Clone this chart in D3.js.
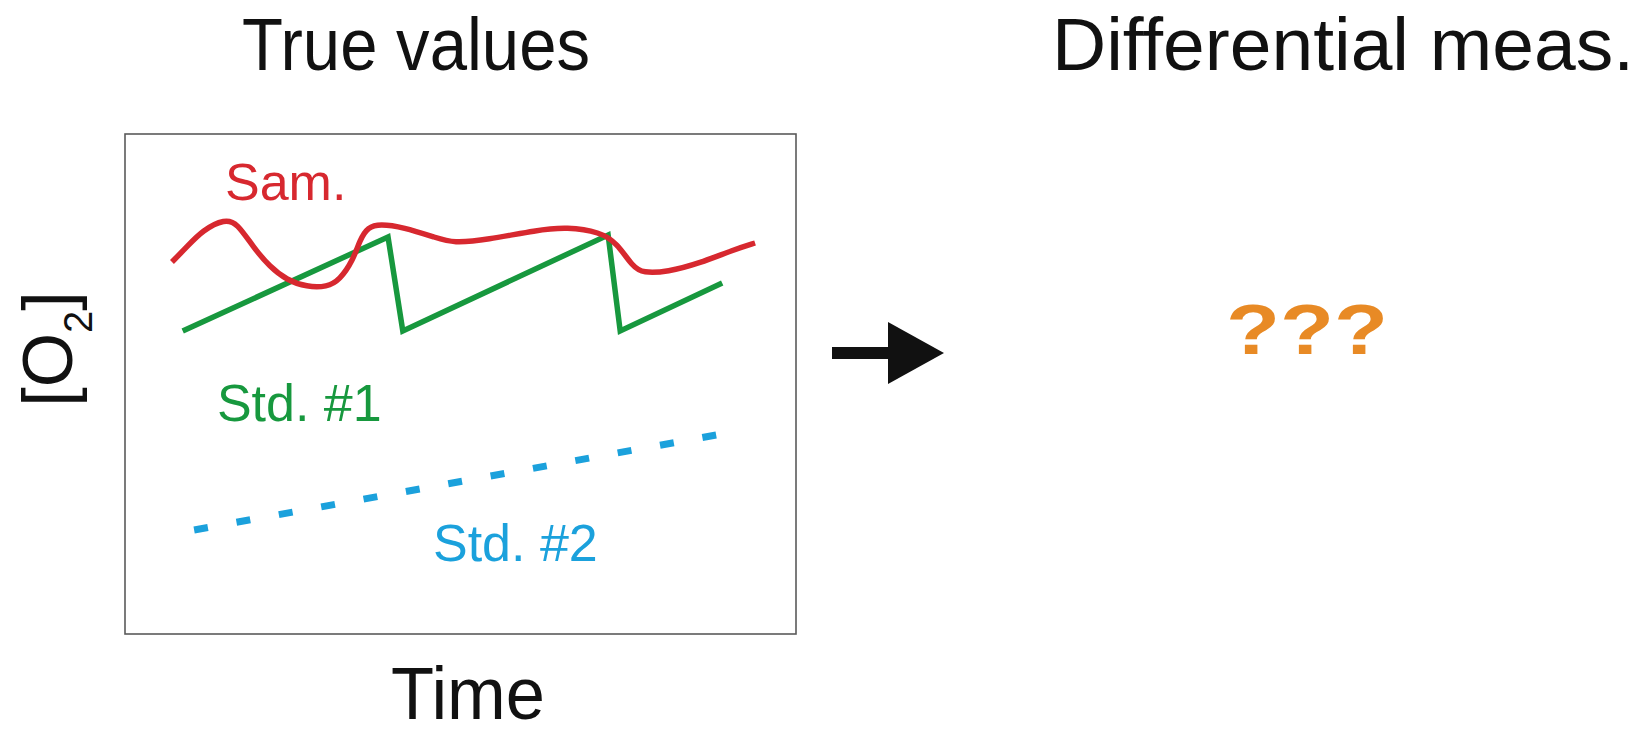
<!DOCTYPE html>
<html>
<head>
<meta charset="utf-8">
<script src="https://cdn.jsdelivr.net/npm/d3@7"></script>
<style>
  html, body { margin: 0; padding: 0; background: #fff; }
  svg { display: block; }
  text { font-family: "Liberation Sans", Arial, Helvetica, sans-serif; }
</style>
</head>
<body>
<div id="chart"></div>
<script>
// ---- data (arbitrary units, 0–100 on both axes) ----
const sampleTime = [7.0, 9.2, 11.6, 14.9, 16.7, 19.1, 21.6, 24.1, 27.1, 30.1, 32.0, 34.0, 35.0, 36.2, 38.0, 41.4, 46.5, 48.9, 53.9, 61.4, 65.9, 70.8, 73.3, 75.7, 77.2, 80.8, 85.7, 90.6, 93.9];
const sampleO2   = [74.4, 77.4, 80.8, 83.0, 82.2, 77.4, 73.4, 70.8, 69.4, 69.4, 70.8, 74.8, 78.8, 81.4, 82.0, 81.4, 79.2, 78.2, 78.8, 80.8, 81.4, 80.4, 78.2, 73.4, 72.2, 72.4, 74.2, 76.8, 78.2];
const std1Time   = [8.6, 39.2, 41.4, 72.0, 73.8, 89.0];
const std1O2     = [60.6, 79.4, 60.6, 79.8, 60.6, 70.2];
const std2Time   = [10.3, 88.1];
const std2O2     = [20.8, 39.8];
const seriesNames = ["Sam.", "Std. #1", "Std. #2"];
const seriesLabelTime = [14.9, 13.7, 45.9];
const seriesLabelO2   = [86.8, 42.6, 14.6];
const titles = ["True values", "Differential meas."];
const xTitle = "Time";
const unknownText = "???";

// ---- layout ----
const W = 1636, H = 735;
const box = { left: 125, right: 796, top: 134, bottom: 634 };
const colors = { sam: "#d7282f", std1: "#17983e", std2: "#1ba1dc", unknown: "#e88a25" };

const svg = d3.select("#chart").append("svg").attr("width", W).attr("height", H);

const x = d3.scaleLinear().domain([0, 100]).range([box.left, box.right]);
const y = d3.scaleLinear().domain([0, 100]).range([box.bottom, box.top]);

// frame
svg.append("rect")
  .attr("x", x(0)).attr("y", y(100))
  .attr("width", x(100) - x(0)).attr("height", y(0) - y(100))
  .attr("fill", "none").attr("stroke", "#5a5a5a").attr("stroke-width", 1.6);

// lines
const sampleData = sampleTime.map((t, i) => [t, sampleO2[i]]);
const std1Data = std1Time.map((t, i) => [t, std1O2[i]]);
const std2Data = std2Time.map((t, i) => [t, std2O2[i]]);

const smooth = d3.line().x(d => x(d[0])).y(d => y(d[1])).curve(d3.curveBasis);
const straight = d3.line().x(d => x(d[0])).y(d => y(d[1]));

svg.append("path").datum(std1Data).attr("d", straight)
  .attr("fill", "none").attr("stroke", colors.std1).attr("stroke-width", 5.5)
  .attr("stroke-linejoin", "miter");
svg.append("path").datum(sampleData).attr("d", smooth)
  .attr("fill", "none").attr("stroke", colors.sam).attr("stroke-width", 5.5)
  .attr("stroke-linecap", "butt");
const blue = svg.append("path").datum(std2Data).attr("d", straight)
  .attr("fill", "none").attr("stroke", colors.std2).attr("stroke-width", 7);
const L = blue.node().getTotalLength();
const nDash = 13, dashLen = 14;
blue.attr("stroke-dasharray", `${dashLen} ${(L - nDash * dashLen) / (nDash - 1)}`);

// series labels
const labelColors = [colors.sam, colors.std1, colors.std2];
svg.selectAll("text.series").data(seriesNames).join("text")
  .attr("class", "series")
  .attr("x", (d, i) => x(seriesLabelTime[i]))
  .attr("y", (d, i) => y(seriesLabelO2[i]))
  .attr("fill", (d, i) => labelColors[i])
  .attr("font-size", 52)
  .text(d => d);

// titles
svg.append("text").attr("x", 242).attr("y", 70).attr("font-size", 74)
  .attr("textLength", 348).attr("lengthAdjust", "spacingAndGlyphs")
  .attr("fill", "#111").text(titles[0]);
svg.append("text").attr("x", 1634).attr("y", 70).attr("font-size", 75)
  .attr("textLength", 582).attr("lengthAdjust", "spacingAndGlyphs")
  .attr("text-anchor", "end").attr("fill", "#111").text(titles[1]);

// axis titles
svg.append("text").attr("x", 391).attr("y", 719).attr("font-size", 74)
  .attr("textLength", 154).attr("lengthAdjust", "spacingAndGlyphs")
  .attr("fill", "#111").text(xTitle);

const yLab = svg.append("text")
  .attr("transform", "translate(72,349) rotate(-90)")
  .attr("text-anchor", "middle").attr("font-size", 70).attr("fill", "#111");
yLab.append("tspan").text("[O");
yLab.append("tspan").attr("font-size", 40).attr("dy", 20).text("2");
yLab.append("tspan").attr("dy", -20).text("]");

// arrow
const arrow = svg.append("g").attr("fill", "#111");
arrow.append("rect").attr("x", 832).attr("y", 347).attr("width", 60).attr("height", 12);
arrow.append("path").attr("d", "M888,322 L888,384 L944,353 Z");

// unknown
svg.append("text").attr("x", 1226).attr("y", 354)
  .attr("font-size", 70).attr("font-weight", "bold").attr("fill", colors.unknown)
  .attr("textLength", 162).attr("lengthAdjust", "spacingAndGlyphs")
  .text(unknownText);
</script>
</body>
</html>
